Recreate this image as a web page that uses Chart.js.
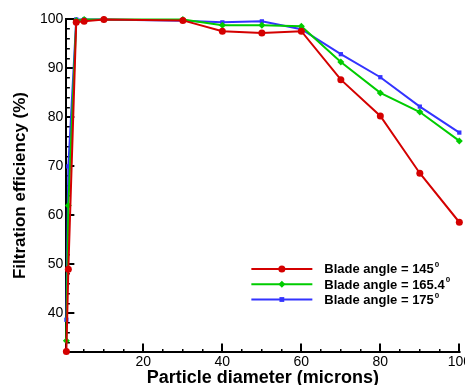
<!DOCTYPE html>
<html>
<head>
<meta charset="utf-8">
<script src="https://cdn.jsdelivr.net/npm/chart.js@4.4.1/dist/chart.umd.min.js"></script>
<style>
    html, body { margin: 0; padding: 0; background: #fff; }
    #wrap { width: 465px; height: 385px; overflow: hidden; position: relative; }
    #box { width: 481px; height: 394px; position: absolute; left: 0; top: 0; }
</style>
</head>
<body>
<div id="wrap"><div id="box"><canvas id="chart"></canvas></div></div>
<script>
const diameters = [0.5, 1, 3, 5, 10, 30, 40, 50, 60, 70, 80, 90, 100];
const angle145 = [32.2, 49.0, 99.4, 99.6, 100, 99.8, 97.6, 97.2, 97.6, 87.7, 80.3, 68.6, 58.6];
const angle165 = [34.4, 62.0, 99.8, 100, 100, 100, 98.8, 98.8, 98.6, 91.3, 85.0, 81.1, 75.2];
const angle175 = [38.7, 70.0, 100, 100, 100, 99.7, 99.4, 99.6, 98.0, 92.9, 88.2, 82.2, 76.9];
const seriesNames = ['Blade angle = 145', 'Blade angle = 165.4', 'Blade angle = 175'];
const xTicks = [20, 40, 60, 80, 100];
const yTicks = [40, 50, 60, 70, 80, 90, 100];

const FONT = '"Liberation Sans", Arial, Helvetica, sans-serif';

function toPoints(values) {
    return values.map((v, i) => ({ x: diameters[i], y: v }));
}

// every minor step gets a tick mark, only the listed values get a label
function withMinor(step, lo, hi) {
    const out = [];
    for (let v = lo; v <= hi + 1e-9; v += step) out.push({ value: v });
    return out;
}

const isMajorX = v => xTicks.includes(v);
const isMajorY = v => yTicks.includes(v);

const extras = {
    id: 'extras',
    afterDraw(chart) {
        const { ctx, chartArea: a } = chart;
        ctx.save();
        // y title
        ctx.translate(20, (a.top + a.bottom) / 2);
        ctx.rotate(-Math.PI / 2);
        ctx.fillStyle = '#000';
        ctx.font = 'bold 17px ' + FONT;
        ctx.textAlign = 'center';
        ctx.textBaseline = 'middle';
        ctx.fillText('Filtration efficiency (%)', 0, 0);
        ctx.restore();

        // legend inside the plot
        ctx.save();
        const x0 = a.left + 185, x1 = a.left + 246, tx = a.left + 258;
        chart.data.datasets.forEach((ds, i) => {
            const ly = a.top + 249.5 + i * 15.3;
            ctx.strokeStyle = ds.borderColor;
            ctx.lineWidth = 2;
            ctx.beginPath();
            ctx.moveTo(x0, ly);
            ctx.lineTo(x1, ly);
            ctx.stroke();
            ctx.fillStyle = ds.borderColor;
            const mx = (x0 + x1) / 2, r = ds.pointRadius;
            ctx.beginPath();
            if (ds.pointStyle === 'circle') {
                ctx.arc(mx, ly, r, 0, Math.PI * 2);
            } else if (ds.pointStyle === 'rectRot') {
                ctx.moveTo(mx, ly - r); ctx.lineTo(mx + r, ly); ctx.lineTo(mx, ly + r); ctx.lineTo(mx - r, ly);
            } else {
                ctx.rect(mx - r * 0.8, ly - r * 0.8, r * 1.6, r * 1.6);
            }
            ctx.fill();
            ctx.fillStyle = '#000';
            ctx.font = 'bold 13px ' + FONT;
            ctx.textAlign = 'left';
            ctx.textBaseline = 'middle';
            ctx.fillText(ds.label, tx, ly + 1);
            const w = ctx.measureText(ds.label).width;
            ctx.font = 'bold 8px ' + FONT;
            ctx.fillText('0', tx + w + 1, ly - 4);
        });
        ctx.restore();
    }
};

new Chart(document.getElementById('chart'), {
    type: 'line',
    data: {
        datasets: [
            { label: seriesNames[0], data: toPoints(angle145), borderColor: '#d40000', backgroundColor: '#d40000', pointStyle: 'circle', pointRadius: 3.5 },
            { label: seriesNames[1], data: toPoints(angle165), borderColor: '#00cc00', backgroundColor: '#00cc00', pointStyle: 'rectRot', pointRadius: 3.5 },
            { label: seriesNames[2], data: toPoints(angle175), borderColor: '#3333ff', backgroundColor: '#3333ff', pointStyle: 'rect', pointRadius: 3 },
        ],
    },
    options: {
        responsive: true,
        maintainAspectRatio: false,
        animation: false,
        clip: false,
        layout: { padding: { left: 29, top: 19, right: 0, bottom: 0 } },
        elements: {
            line: { borderWidth: 2, tension: 0 },
            point: { borderWidth: 0, hoverRadius: 3 },
        },
        plugins: {
            legend: { display: false },
            tooltip: { enabled: false },
        },
        scales: {
            x: {
                type: 'linear',
                min: 0.5,
                max: 100,
                afterBuildTicks: s => { s.ticks = withMinor(5, 5, 100); },
                grid: {
                    display: true,
                    drawOnChartArea: false,
                    drawTicks: true,
                    tickLength: -8,
                    color: '#000',
                    lineWidth: c => (isMajorX(c.tick.value) ? 2 : 1.5),
                    tickBorderDash: c => (isMajorX(c.tick.value) ? [] : [4, 100]),
                },
                border: { display: true, color: '#000', width: 2 },
                ticks: {
                    color: '#000',
                    padding: 10,
                    autoSkip: false,
                    maxRotation: 0,
                    font: { family: FONT, size: 14 },
                    callback: v => (isMajorX(v) ? String(v) : ''),
                },
                title: {
                    display: true,
                    text: 'Particle diameter (microns)',
                    color: '#000',
                    padding: { top: -13, bottom: 5 },
                    font: { family: FONT, size: 18, weight: 'bold' },
                },
            },
            y: {
                min: 32.2,
                max: 100,
                afterBuildTicks: s => { s.ticks = withMinor(2, 34, 100); },
                grid: {
                    display: true,
                    drawOnChartArea: false,
                    drawTicks: true,
                    tickLength: -8,
                    color: '#000',
                    lineWidth: c => (isMajorY(c.tick.value) ? 2 : 1.5),
                    tickBorderDash: c => (isMajorY(c.tick.value) ? [] : [0, 4.5, 100, 0]),
                },
                border: { display: true, color: '#000', width: 2 },
                ticks: {
                    color: '#000',
                    padding: 11,
                    autoSkip: false,
                    font: { family: FONT, size: 14 },
                    callback: v => (isMajorY(v) ? String(v) : ''),
                },
            },
        },
    },
    plugins: [extras],
});
</script>
</body>
</html>
